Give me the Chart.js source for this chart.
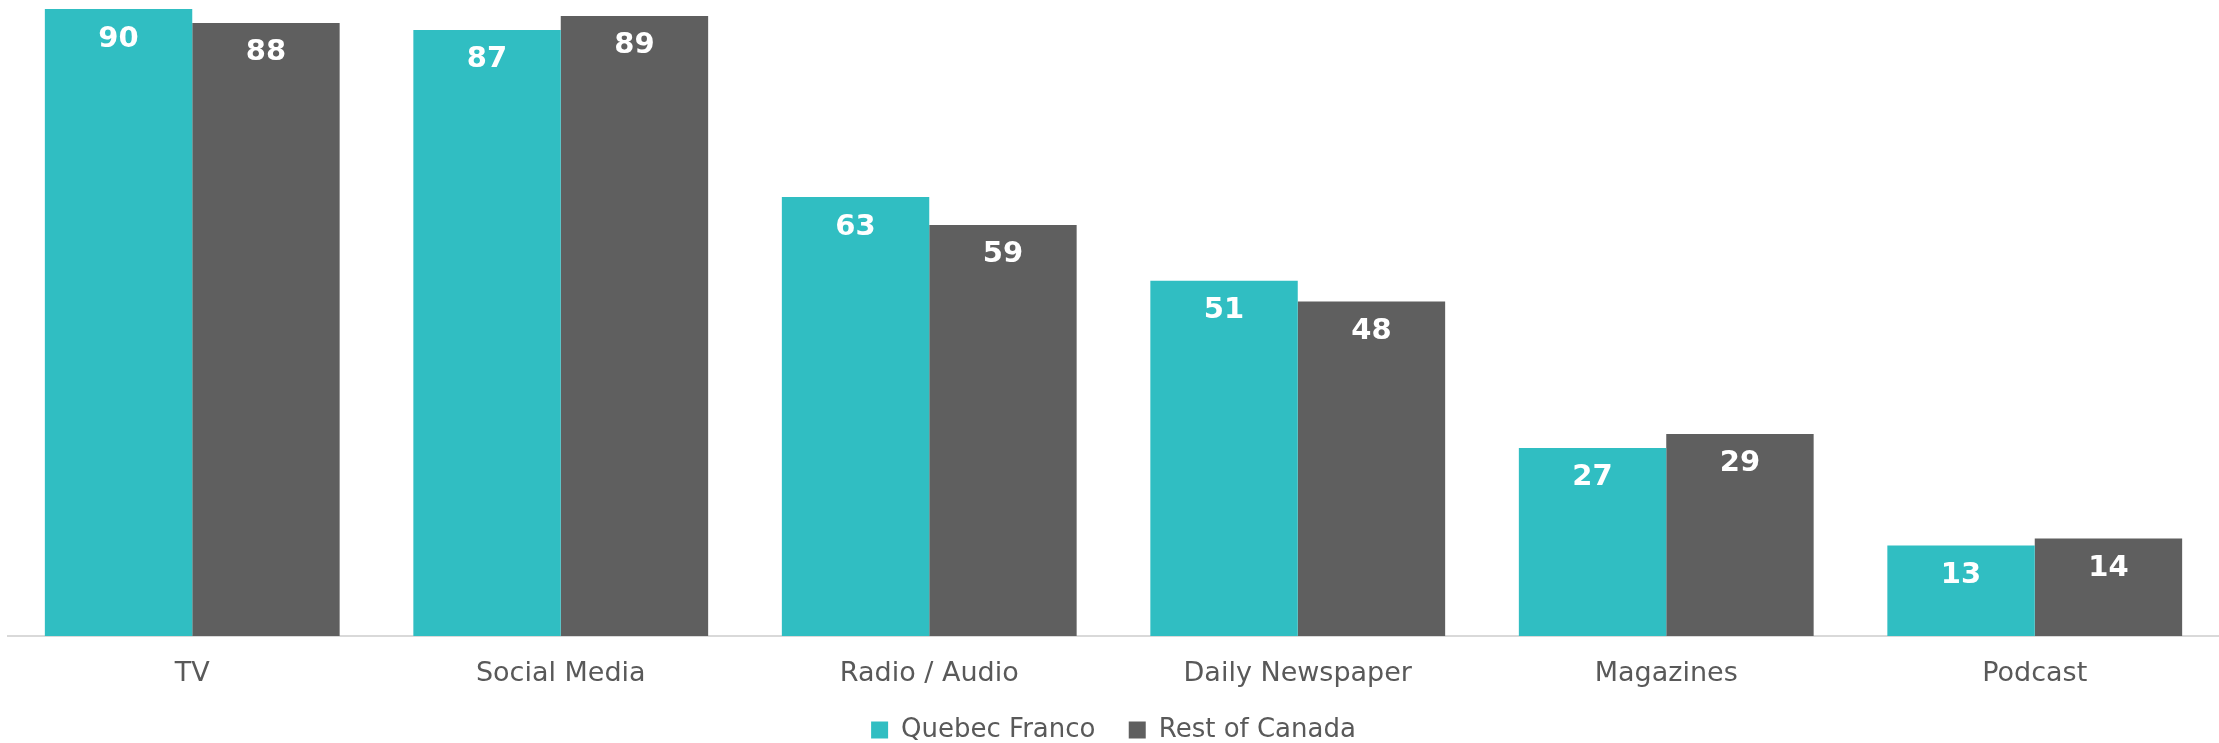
<!DOCTYPE html>
<html>
<head>
<meta charset="utf-8">
<script src="https://cdn.jsdelivr.net/npm/chart.js@4"></script>
<style>
  html, body { margin: 0; padding: 0; background: #ffffff; overflow: hidden; }
  #wrap { width: 2219px; height: 743px; }
</style>
</head>
<body>
<div id="wrap"><canvas id="media-graph"></canvas></div>
<script>
const categories = ['TV', 'Social Media', 'Radio / Audio', 'Daily Newspaper', 'Magazines', 'Podcast'];
const quebecFranco = [90, 87, 63, 51, 27, 13];
const restOfCanada = [88, 89, 59, 48, 29, 14];

const barLabels = { // draws the white value inside the top of each bar
    id: 'barLabels',
    afterDatasetsDraw(chart) {
        const ctx = chart.ctx;
        ctx.save();
        ctx.font = 'bold 29px "DejaVu Sans"';
        ctx.fillStyle = '#ffffff';
        ctx.textAlign = 'center';
        ctx.textBaseline = 'middle';
        chart.data.datasets.forEach((ds, i) => {
            chart.getDatasetMeta(i).data.forEach((bar, j) => {
                ctx.fillText(ds.data[j], bar.x, bar.y + 30);
            });
        });
        ctx.restore();
    }
};

const ctx = document.getElementById('media-graph').getContext('2d');
new Chart(ctx, {
    type: 'bar',
    data: {
        labels: categories,
        datasets: [
            {
                label: 'Quebec Franco',
                data: quebecFranco,
                backgroundColor: '#30BEC2'
            },
            {
                label: 'Rest of Canada',
                data: restOfCanada,
                backgroundColor: '#5F5F5F'
            }
        ]
    },
    options: {
        responsive: true,
        maintainAspectRatio: false,
        animation: false,
        layout: { padding: { top: 9, left: 8, right: 0, bottom: -10 } },
        datasets: { bar: { categoryPercentage: 0.8, barPercentage: 1.0 } },
        plugins: {
            tooltip: { enabled: false },
            legend: {
                position: 'bottom',
                labels: {
                    boxWidth: 17,
                    boxHeight: 17,
                    padding: 25,
                    color: '#595959',
                    font: { family: '"DejaVu Sans"', size: 26 },
                    generateLabels(chart) { // a bit more room between the two entries
                        const items = Chart.defaults.plugins.legend.labels.generateLabels(chart);
                        items[0].text += ' ';
                        return items;
                    }
                }
            }
        },
        scales: {
            x: {
                grid: { display: false, drawTicks: false },
                border: { display: true, color: '#D9D9D9', width: 2 },
                ticks: {
                    color: '#595959',
                    padding: 22,
                    font: { family: '"DejaVu Sans"', size: 27 }
                },
                afterFit(scale) { scale.height = 56; }
            },
            y: {
                display: false,
                min: 0,
                max: 90
            }
        }
    },
    plugins: [barLabels]
});
</script>
</body>
</html>
